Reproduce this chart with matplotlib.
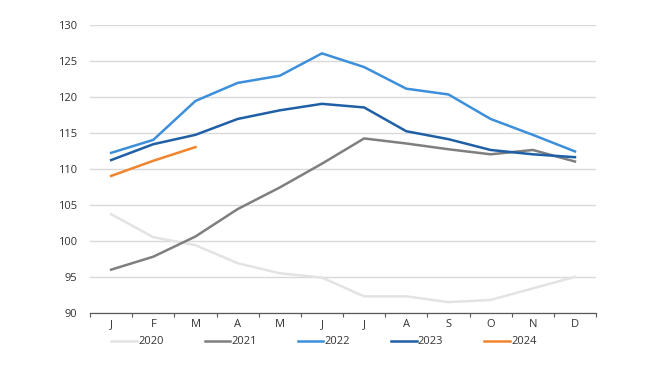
import numpy as np
import matplotlib.pyplot as plt

months = ["J", "F", "M", "A", "M", "J", "J", "A", "S", "O", "N", "D"]

y2020 = [103.7, 100.5, 99.4, 96.9, 95.5, 94.9, 92.3, 92.3, 91.5, 91.8, 93.4, 95.0]
y2021 = [96.0, 97.8, 100.6, 104.4, 107.4, 110.7, 114.2, 113.5, 112.7, 112.0, 112.6, 111.0]
y2022 = [112.2, 114.0, 119.4, 121.9, 122.9, 126.0, 124.1, 121.1, 120.3, 116.9, 114.7, 112.4]
y2023 = [111.2, 113.4, 114.7, 116.9, 118.1, 119.0, 118.5, 115.2, 114.1, 112.6, 112.0, 111.6]
y2024 = [109.0, 111.1, 113.0]

series = [
    ("2020", y2020, "#e3e3e3"),
    ("2021", y2021, "#7f7f7f"),
    ("2022", y2022, "#3c8fda"),
    ("2023", y2023, "#1f5fa6"),
    ("2024", y2024, "#f0852d"),
]

plt.rcParams["font.family"] = ["Open Sans", "DejaVu Sans"]

fig = plt.figure(figsize=(6.5, 3.66), dpi=100)
ax = fig.add_axes([0.1385, 0.145, 0.7785, 0.788])

x = np.arange(len(months))
for label, vals, color in series:
    ax.plot(x[:len(vals)], vals, color=color, lw=1.8, label=label,
            solid_joinstyle="round", zorder=3)

ax.set_ylim(90, 130)
ax.set_yticks(range(90, 131, 5))
ax.set_xlim(-0.5, 11.5)
ax.set_xticks(x)
ax.set_xticklabels(months)
ax.set_xticks(np.arange(-0.5, 12, 1), minor=True)
ax.tick_params(axis="x", which="major", length=0, labelsize=8, pad=4.5, colors="#333333")
ax.tick_params(axis="x", which="minor", length=3, width=0.8, color="#595959")
ax.tick_params(axis="y", length=0, labelsize=8, pad=9, colors="#333333")

ax.yaxis.grid(True, color="#d9d9d9", lw=1)
ax.set_axisbelow(True)
for s in ["top", "right", "left"]:
    ax.spines[s].set_visible(False)
ax.spines["bottom"].set_color("#595959")
ax.spines["bottom"].set_linewidth(0.9)
ax.spines["bottom"].set_zorder(2)

fig.legend(loc="center", bbox_to_anchor=(324 / 650, 1 - 342 / 366), ncol=5,
           frameon=False, fontsize=8, handlelength=2.3, handletextpad=0.1,
           columnspacing=3.7, labelcolor="#333333")

fig.savefig("out.png", dpi=100)
